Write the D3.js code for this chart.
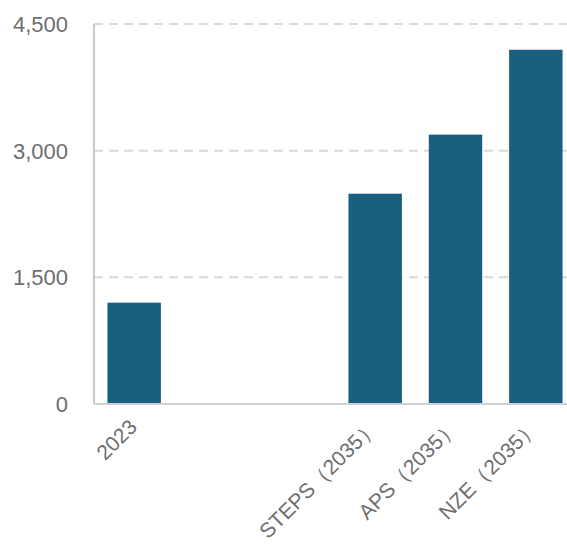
<!DOCTYPE html>
<html>
<head>
<meta charset="utf-8">
<script src="https://cdn.jsdelivr.net/npm/d3@7"></script>
<style>
  body { margin: 0; background: #fff; }
  text { font-family: "Liberation Sans", Arial, sans-serif; }
</style>
</head>
<body>
<div id="chart"></div>
<script>
// data
const categories = ["2023", "gap1", "gap2", "STEPS（2035）", "APS（2035）", "NZE（2035）"];
const labels = ["2023", "", "", "STEPS（2035）", "APS（2035）", "NZE（2035）"];
const values = [1200, null, null, 2490, 3190, 4195];
const yTicks = [0, 1500, 3000, 4500];

const width = 567, height = 546;
const margin = { top: 24, left: 94, bottom: 142, right: 0 };
const iwidth = 482;
const iheight = height - margin.top - margin.bottom;

const svg = d3.select("#chart").append("svg")
  .attr("width", width)
  .attr("height", height);

const g = svg.append("g").attr("transform", `translate(${margin.left},${margin.top})`);

const y = d3.scaleLinear().domain([0, 4500]).range([iheight, 0]);
const x = d3.scaleBand().domain(categories).range([0, iwidth]).paddingInner(0.335).paddingOuter(0.1675);

// gridlines
g.selectAll(".grid").data(yTicks.filter(d => d > 0)).enter().append("line")
  .attr("class", "grid")
  .attr("x1", 0).attr("x2", width)
  .attr("y1", d => y(d)).attr("y2", d => y(d))
  .attr("stroke", "#d9d9d9")
  .attr("stroke-width", 2)
  .attr("stroke-dasharray", "9,6");

// bars
const data = categories.map((c, i) => ({ name: c, value: values[i] })).filter(d => d.value != null);
g.selectAll("rect").data(data).enter().append("rect")
  .attr("x", d => x(d.name))
  .attr("y", d => y(d.value))
  .attr("width", x.bandwidth())
  .attr("height", d => iheight - y(d.value))
  .attr("fill", "#185f80");

// y axis
const yAxis = g.append("g").call(d3.axisLeft(y).tickValues(yTicks).tickFormat(d3.format(",")).tickSize(0).tickPadding(26));
yAxis.select(".domain").remove();
yAxis.selectAll("text")
  .attr("fill", "#6e6e6e")
  .style("font-size", "22px")
  .attr("dy", "0.34em");
g.append("line")
  .attr("x1", 0).attr("x2", 0)
  .attr("y1", 0).attr("y2", iheight)
  .attr("stroke", "#c8c8c8").attr("stroke-width", 2);
g.append("line")
  .attr("x1", 0).attr("x2", width)
  .attr("y1", iheight).attr("y2", iheight)
  .attr("stroke", "#d0d0d0").attr("stroke-width", 2);

// x labels
const xAxis = g.append("g")
  .attr("transform", `translate(0,${iheight})`)
  .call(d3.axisBottom(x).tickSize(0).tickFormat((d, i) => labels[i]));
xAxis.select(".domain").remove();
xAxis.selectAll("text")
  .attr("fill", "#6e6e6e")
  .style("font-size", "21px")
  .attr("text-anchor", "end")
  .attr("transform", "translate(-1,19) rotate(-45)")
  .attr("dy", "0.35em")
  .attr("y", 0);
</script>
</body>
</html>
